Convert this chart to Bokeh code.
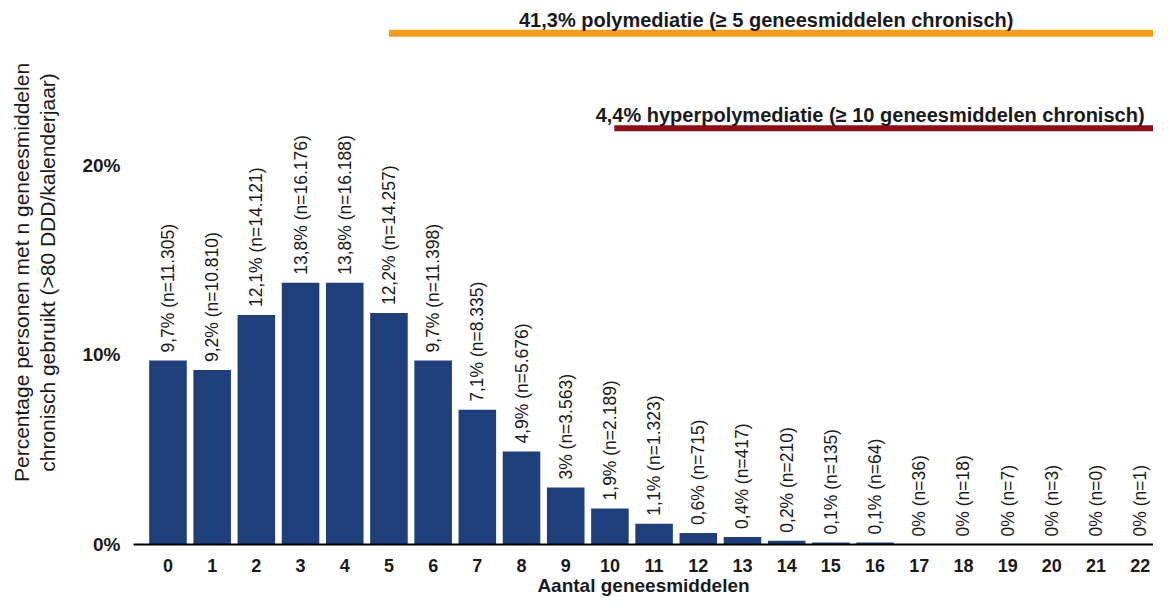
import math
from bokeh.plotting import figure
from bokeh.models import ColumnDataSource, FixedTicker, PrintfTickFormatter
from bokeh.core.properties import value
from bokeh.embed import file_html
from bokeh.resources import INLINE

# ---- data ----
n_medicines = list(range(23))
percentages = [9.7, 9.2, 12.1, 13.8, 13.8, 12.2, 9.7, 7.1, 4.9, 3.0, 1.9, 1.1, 0.6,
               0.4, 0.2, 0.1, 0.1, 0, 0, 0, 0, 0, 0]
persons = [11305, 10810, 14121, 16176, 16188, 14257, 11398, 8335, 5676, 3563, 2189,
           1323, 715, 417, 210, 135, 64, 36, 18, 7, 3, 0, 1]
y_ticks = [0, 10, 20]

poly_text = "41,3% polymediatie (\u2265  5 geneesmiddelen chronisch)"
hyper_text = "4,4% hyperpolymediatie (\u2265  10 geneesmiddelen chronisch)"
x_title = "Aantal geneesmiddelen"
y_title_1 = "Percentage personen met n geneesmiddelen"
y_title_2 = "chronisch gebruikt (>80 DDD/kalenderjaar)"

# ---- styles ----
FONT = "Liberation Sans"
BAR = "#1f3f7a"
ORANGE = "#f39c1a"
DARKRED = "#8a1017"
TXT = "#1a1a1a"


def pct_str(v):
    return f"{v:g}".replace(".", ",") + "%"


def n_str(v):
    return f"{v:,}".replace(",", ".")


labels = [f"{pct_str(p)} (n={n_str(n)})" for p, n in zip(percentages, persons)]
src = ColumnDataSource(dict(x=n_medicines, top=percentages, label=labels))

p = figure(width=1153, height=598, x_range=(-0.78, 22.3), y_range=(0, 28.68),
           output_backend="svg", toolbar_location=None,
           min_border_left=133, min_border_right=0, min_border_top=0,
           min_border_bottom=53)
p.outline_line_color = None
p.grid.visible = False
p.background_fill_color = "white"
p.border_fill_color = "white"

p.vbar(x="x", top="top", width=0.85, source=src, color=BAR, line_color=None)

p.text(x="x", y="top", text="label", source=src, angle=math.pi / 2,
       text_align="left", text_baseline="middle", y_offset=-8,
       text_font=value(FONT), text_font_size="17.5px", text_color=TXT)

# range brackets
poly_x = [5.0, 22.3]
hyper_x = [10.1, 22.3]
poly_y = 26.95
hyper_y = 21.95
p.segment(x0=[poly_x[0]], y0=[poly_y], x1=[poly_x[1]], y1=[poly_y],
          line_color=ORANGE, line_width=7, line_cap="butt")
p.segment(x0=[hyper_x[0]], y0=[hyper_y], x1=[hyper_x[1]], y1=[hyper_y],
          line_color=DARKRED, line_width=6, line_cap="butt")
p.text(x=[13.6], y=[poly_y], text=[poly_text], text_align="center",
       text_baseline="bottom", y_offset=-2, text_font=value(FONT),
       text_font_size="20px", text_font_style="bold", text_color=TXT)
p.text(x=[15.95], y=[hyper_y], text=[hyper_text], text_align="center",
       text_baseline="bottom", y_offset=-2, text_font=value(FONT),
       text_font_size="20px", text_font_style="bold", text_color=TXT)

# axes
xa = p.xaxis[0]
xa.ticker = FixedTicker(ticks=n_medicines)
xa.axis_line_color = "black"
xa.axis_line_width = 2
xa.major_tick_line_color = None
xa.minor_tick_line_color = None
xa.major_label_standoff = 8
xa.major_label_text_font = FONT
xa.major_label_text_font_size = "18px"
xa.major_label_text_font_style = "bold"
xa.major_label_text_color = TXT
xa.axis_label = x_title
xa.axis_label_standoff = 0
xa.axis_label_text_font = FONT
xa.axis_label_text_font_size = "19px"
xa.axis_label_text_font_style = "bold"
xa.axis_label_text_color = TXT

ya = p.yaxis[0]
ya.ticker = FixedTicker(ticks=y_ticks)
ya.formatter = PrintfTickFormatter(format="%d%%")
ya.axis_line_color = None
ya.major_tick_line_color = None
ya.minor_tick_line_color = None
ya.major_label_standoff = 7
ya.major_label_text_font = FONT
ya.major_label_text_font_size = "19px"
ya.major_label_text_font_style = "bold"
ya.major_label_text_color = TXT
ya.axis_label = y_title_1 + "\n" + y_title_2
ya.axis_label_standoff = 20
ya.axis_label_text_font = FONT
ya.axis_label_text_font_size = "21px"
ya.axis_label_text_font_style = "normal"
ya.axis_label_text_color = TXT
ya.axis_label_text_line_height = 1.15

open("out.html", "w").write(file_html(p, INLINE))
